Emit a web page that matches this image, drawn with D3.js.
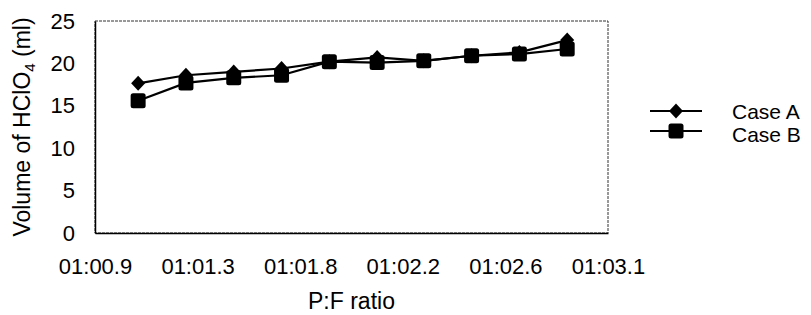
<!DOCTYPE html>
<html lang="en">
<head>
  <meta charset="UTF-8">
  <title>Volume of HClO4 vs P:F ratio</title>
  <style>
    body { margin: 0; background: #fff; }
    svg text { font-family: "Liberation Sans", Arial, sans-serif; fill: #000; }
  </style>
  <script src="https://d3js.org/d3.v7.min.js"></script>
</head>
<body>
  <svg id="chart"></svg>
  <script>
    // values
    const ratios = [1.085, 1.29, 1.495, 1.70, 1.905, 2.11, 2.31, 2.515, 2.72, 2.925];
    const caseA = [17.65, 18.6, 19.0, 19.4, 20.2, 20.7, 20.3, 20.9, 21.3, 22.75];
    const caseB = [15.6, 17.7, 18.3, 18.6, 20.2, 20.1, 20.3, 20.9, 21.1, 21.7];
    const xTicks = [0.9, 1.34, 1.78, 2.22, 2.66, 3.1];
    const xTickLabels = ["01:00.9", "01:01.3", "01:01.8", "01:02.2", "01:02.6", "01:03.1"];
    const yTicks = [0, 5, 10, 15, 20, 25];
    const seriesNames = ["Case A", "Case B"];

    const W = 811, H = 315;
    const margin = { top: 21, right: 203, bottom: 82, left: 95 };
    const width = W - margin.left - margin.right;
    const height = H - margin.top - margin.bottom;

    const svg = d3.select("#chart").attr("width", W).attr("height", H);
    const g = svg.append("g").attr("transform", `translate(${margin.left},${margin.top})`);

    const x = d3.scaleLinear().domain([0.9, 3.1]).range([0, width]);
    const y = d3.scaleLinear().domain([0, 25]).range([height, 0]);

    // plot frame: dotted top/right, solid left/bottom
    g.append("rect")
      .attr("width", width).attr("height", height)
      .attr("fill", "none").attr("stroke", "#333")
      .attr("stroke-width", 1).attr("stroke-dasharray", "3,1");

    const yAxis = g.append("g")
      .call(d3.axisLeft(y).tickValues(yTicks).tickSize(0).tickPadding(20));
    yAxis.select(".domain").attr("stroke", "#000").attr("stroke-width", 1.5);
    yAxis.selectAll("text").attr("font-size", 22).attr("font-family", null);

    const xAxis = g.append("g")
      .attr("transform", `translate(0,${height})`)
      .call(d3.axisBottom(x).tickValues(xTicks).tickSize(0).tickPadding(25)
        .tickFormat((d, i) => xTickLabels[i]));
    xAxis.select(".domain").attr("stroke", "#000").attr("stroke-width", 1.5);
    xAxis.selectAll("text").attr("font-size", 22).attr("font-family", null);

    // axis titles
    svg.append("text")
      .attr("x", margin.left + width / 2).attr("y", 309)
      .attr("text-anchor", "middle").attr("font-size", 23)
      .text("P:F ratio");

    const yt = svg.append("text")
      .attr("transform", `translate(30,127) rotate(-90)`)
      .attr("text-anchor", "middle").attr("font-size", 23);
    yt.append("tspan").text("Volume of HClO");
    yt.append("tspan").attr("font-size", 15).attr("dy", 5).text("4");
    yt.append("tspan").attr("dy", -5).text(" (ml)");

    const drawDiamond = (sel) => sel.append("path")
      .attr("d", "M0,-7.5L7,0L0,7.5L-7,0Z").attr("fill", "#000");
    const drawSquare = (sel) => sel.append("rect")
      .attr("x", -7.5).attr("y", -7.5).attr("width", 15).attr("height", 15)
      .attr("rx", 2.5).attr("fill", "#000");

    const series = [
      { name: seriesNames[0], values: caseA, marker: drawDiamond },
      { name: seriesNames[1], values: caseB, marker: drawSquare }
    ];

    const line = d3.line().x((d, i) => x(ratios[i])).y(d => y(d));

    series.forEach(s => {
      g.append("path").datum(s.values)
        .attr("d", line).attr("fill", "none")
        .attr("stroke", "#000").attr("stroke-width", 2.2);
    });
    series.forEach(s => {
      s.values.forEach((v, i) => {
        const m = g.append("g").attr("transform", `translate(${x(ratios[i])},${y(v)})`);
        s.marker(m);
      });
    });

    // legend
    const legend = svg.append("g").attr("transform", "translate(650,111)");
    series.forEach((s, i) => {
      const row = legend.append("g").attr("transform", `translate(0,${i * 20})`);
      row.append("line").attr("x1", 0).attr("x2", 52)
        .attr("stroke", "#000").attr("stroke-width", 2);
      s.marker(row.append("g").attr("transform", "translate(26,0)"));
      row.append("text").attr("x", 82).attr("y", 8 + i * 3)
        .attr("font-size", 21).text(s.name);
    });
  </script>
</body>
</html>
